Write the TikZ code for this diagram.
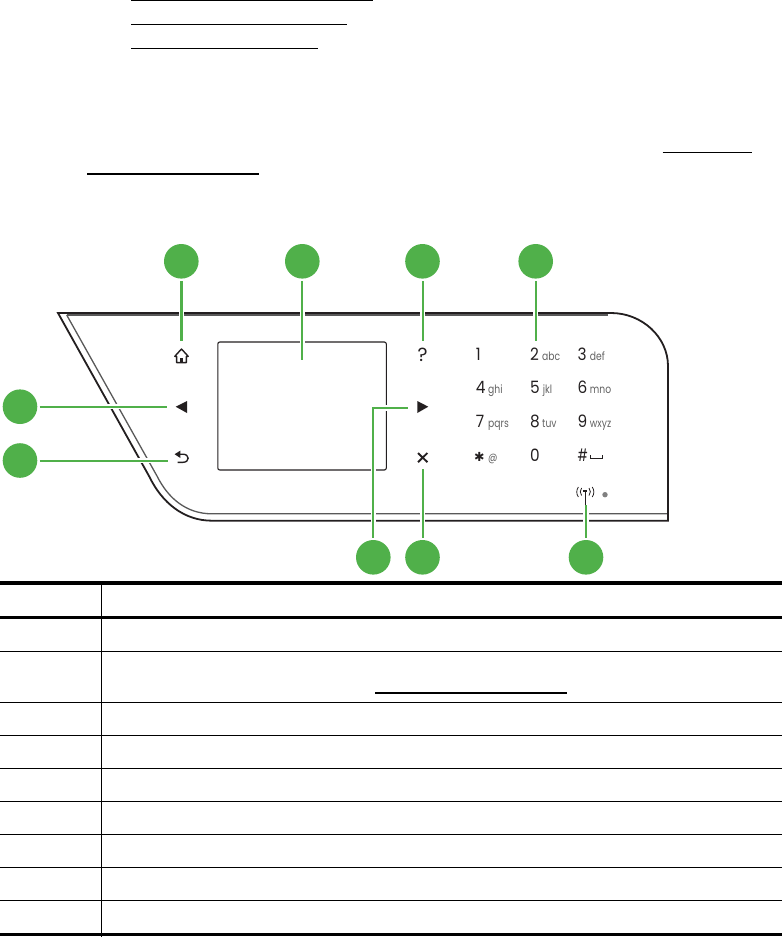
\documentclass[tikz,border=0pt]{standalone}
\usepackage{fontspec}
\setmainfont{Poppins}
\newfontfamily\dejavu{DejaVu Sans}
\newfontfamily\digitfont[FakeStretch=0.9]{Poppins}
\newfontfamily\hashfont[FakeStretch=0.72]{Poppins}
\newfontfamily\letterfont[FakeStretch=0.8]{Poppins}
\definecolor{hpgreen}{HTML}{50B04A}
\definecolor{panelk}{HTML}{231F20}
\tikzset{
  callout/.style={circle,fill=hpgreen,minimum size=34.6pt,inner sep=0pt},
  leader/.style={draw=hpgreen,line width=2pt,shorten <=2.2pt,preaction={draw=white,line width=5.5pt}},
  leaderthick/.style={leader,line width=2.7pt},
  digit/.style={anchor=base west,inner sep=0pt,font=\digitfont\fontsize{17}{18}\selectfont,text=panelk},
  letters/.style={anchor=base west,inner sep=0pt,font=\letterfont\fontsize{11.5}{13}\selectfont,text=black!62},
  rulethin/.style={line width=1pt},
  rulethick/.style={line width=3.4pt},
  linkline/.style={line width=1.4pt},
  panelout/.style={draw=panelk,line width=1.8pt},
  panelin/.style={draw=black!65,line width=1.3pt},
  icon/.style={draw=panelk,line width=1.4pt}
}
\begin{document}
\begin{tikzpicture}[x=1pt,y=-1pt]
\useasboundingbox (0,0) rectangle (782,937);
% link underlines
\foreach \a/\b/\c in {131/373/0.5,131/347/24.3,131/318/48.3,662.5/752/152.3,87/258.5/174,375/567/693}
  \draw[linkline] (\a,\c) -- (\b,\c);
% table rules
\foreach \c in {651.3,702,735.3,768.3,801.3,834.3,867.3,900.3}
  \draw[rulethin] (0,\c) -- (782,\c);
\foreach \c in {583,617.3,934.7}
  \draw[rulethick] (0,\c) -- (782,\c);
\draw[rulethin] (101,583) -- (101,937);
% panel
\draw[panelin] (66.7,315) -- (608,315);
\draw[panelin] (66.7,315) -- (157,476) .. controls (168,498) and (186,513.8) .. (212,513.8) -- (667,513.8);
\draw[panelout] (58,313) -- (149,476) .. controls (162,503) and (184,520.7) .. (212,520.7) -- (668,520.7) -- (668,366) .. controls (668,337) and (642,313) .. (611,313) -- cycle;
\draw[draw=panelk,line width=1.1pt,rounded corners=2pt] (217.8,342) rectangle (386.3,470);
% icons
\draw[icon,line join=round] (174.8,356.3) -- (181.5,349) -- (188.2,356.3) -- (186.4,356.3) -- (186.4,362.6) -- (176.6,362.6) -- (176.6,356.3) -- cycle;
\fill[panelk] (180,357.8) rectangle (183,362.6);
\fill[panelk] (175.7,406.7) -- (187,401) -- (187,413) -- cycle;
\fill[panelk] (428.3,406.7) -- (417.3,401) -- (417.3,413) -- cycle;
\fill[panelk] (174.6,454.2) -- (180.4,450.6) -- (180.4,458) -- cycle;
\draw[icon] (179,454.2) -- (183,454.2) .. controls (189.8,454.2) and (189.8,462.3) .. (183,462.3) -- (177.5,462.3);
\node[anchor=base,inner sep=0pt,font=\fontsize{19}{20}\selectfont,text=panelk] (ihelp) at (422.6,361.2) {?};
\draw[icon,line width=1.9pt] (418,453) -- (427.4,462.2) (427.4,453) -- (418,462.2);
% keypad
\foreach \n/\x/\y/\t in {d1/475.7/360/1,d2/530/360/2,d3/577.3/360/3,d4/475.7/393.3/4,d5/530/393.3/5,d6/577.3/393.3/6,d7/475.7/427.7/7,d8/530/427.7/8,d9/577.3/427.7/9,d0/530/461/0}
  \node[digit] (\n) at (\x,\y) {\t};
\node[digit,font=\hashfont\fontsize{17}{18}\selectfont] (dh) at (577.3,461) {\#};
\foreach \n/\x/\y/\t in {labc/542/360/abc,ldef/589.7/360/def,lghi/488/393.3/ghi,ljkl/542.6/393.3/jkl,lmno/589.7/393.3/mno,lpqrs/488/427.7/pqrs,ltuv/542/427.7/tuv,lwxyz/589.7/427.7/wxyz,lat/488/461/@}
  \node[letters] (\n) at (\x,\y) {\t};
\node[anchor=center,inner sep=0pt,font=\dejavu\fontsize{12.5}{13}\selectfont,text=panelk] (dstar) at (479.3,456.7) {✱};
\draw[icon,line width=1.5pt] (590.4,455) -- (590.4,458.5) -- (602.4,458.5) -- (602.4,455);
% wireless symbol
\draw[icon,line width=1.1pt] (585.2,490.5) -- (585.2,505) (583,491) -- (587.4,491);
\draw[icon,line width=.8pt] (581.6,488) .. controls (579.8,490.5) and (579.8,493) .. (581.6,495.5)
  (578.4,487) .. controls (576.2,490) and (576.2,494) .. (578.4,497)
  (589,488) .. controls (590.8,490.5) and (590.8,493) .. (589,495.5)
  (592.2,487) .. controls (594.4,490) and (594.4,494) .. (592.2,497);
\fill[black!50] (605,494.7) circle (2.7pt);
% callouts
\node[callout] (home) at (181.3,261.3) {};
\node[callout] (screen) at (302.3,261.3) {};
\node[callout] (help) at (422.5,261.3) {};
\node[callout] (pad) at (535.7,261.3) {};
\node[callout] (left) at (20,406.7) {};
\node[callout] (back) at (20,460.5) {};
\node[callout] (right) at (373.3,557.3) {};
\node[callout] (cancel) at (422.5,557.3) {};
\node[callout] (wifi) at (586,557.3) {};
\coordinate (ehome) at (181.3,341);
\coordinate (escreen) at (302.3,360);
\coordinate (ehelp) at (422.5,341);
\coordinate (epad) at (535.7,341);
\coordinate (eleft) at (166.7,406.7);
\coordinate (eback) at (168,460.5);
\coordinate (eright) at (408.3,408);
\coordinate (ecancel) at (422.5,469);
\coordinate (ewifi) at (586,505);
\draw[leaderthick] (home.south) -- (ehome);
\draw[leader] (screen.south) -- (escreen);
\draw[leader] (help.south) -- (ehelp);
\draw[leader] (pad.south) -- (epad);
\draw[leader] (left.east) -- (eleft);
\draw[leader] (back.east) -- (eback);
\draw[leader] (right.north) -- (373.3,408) -- (eright);
\draw[leader] (cancel.north) -- (ecancel);
\draw[leader] (wifi.north) -- (ewifi);
\end{tikzpicture}
\end{document}
